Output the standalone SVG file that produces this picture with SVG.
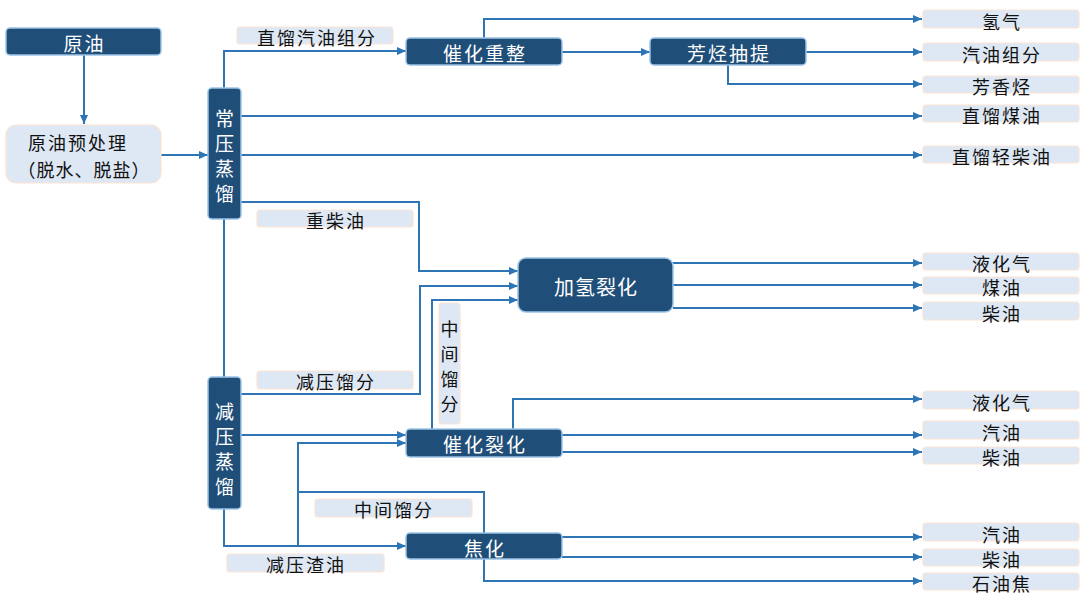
<svg xmlns="http://www.w3.org/2000/svg" width="1080" height="606" viewBox="0 0 1080 606">
<style>
.n{fill:#1f4e79;stroke:#9dc3e6;stroke-width:1.5}
.nt{fill:#fff;font-family:"Noto Sans CJK SC","Noto Sans",sans-serif;font-size:19px;text-anchor:middle;dominant-baseline:central}
.l{fill:#dde8f4;stroke:#fbe3d3;stroke-width:1.2}
.lt{fill:#111;font-family:"Noto Sans CJK SC","Noto Sans",sans-serif;font-size:18px;letter-spacing:2px;text-anchor:middle;dominant-baseline:central}
.c path{fill:none;stroke:#2e75b6;stroke-width:2}
.c .a{marker-end:url(#ah)}
</style>
<defs>
<marker id="ah" markerUnits="userSpaceOnUse" markerWidth="9" markerHeight="8" refX="9" refY="4" orient="auto">
<path d="M0,0 L9,4 L0,8 z" fill="#2e75b6"/>
</marker>
</defs>
<rect width="1080" height="606" fill="#fff"/>
<g class="c" id="connectors">
<path class="a" d="M84,55 V124"/>
<path class="a" d="M161,155 H208"/>
<path class="a" d="M224,88 V51 H406"/>
<path class="a" d="M241,116 H922"/>
<path class="a" d="M241,155 H922"/>
<path class="a" d="M241,202 H419 V271 H518"/>
<path d="M224,219 V377"/>
<path class="a" d="M241,394 H420 V286 H518"/>
<path class="a" d="M432,429 V300 H518"/>
<path class="a" d="M241,435 H406"/>
<path d="M484,533 V492 H298"/>
<path class="a" d="M298,546 V443 H406"/>
<path class="a" d="M224,509 V546 H406"/>
<path class="a" d="M484,38 V19 H922"/>
<path class="a" d="M562,52 H650"/>
<path class="a" d="M806,52 H922"/>
<path class="a" d="M728,65 V84 H922"/>
<path class="a" d="M673,263 H922"/>
<path class="a" d="M673,285 H922"/>
<path class="a" d="M673,308 H922"/>
<path class="a" d="M513,429 V399 H922"/>
<path class="a" d="M562,435 H922"/>
<path class="a" d="M562,452 H922"/>
<path class="a" d="M562,537 H922"/>
<path class="a" d="M562,557 H922"/>
<path class="a" d="M484,559 V581 H922"/>
</g>
<g id="n-crude"><rect class="n" x="6" y="28" width="155" height="27" rx="4"/><text class="nt" x="84.5" y="42" letter-spacing="2">原油</text></g>
<g id="n-pre"><rect x="6" y="125" width="155" height="58" rx="10" fill="#dde8f4" stroke="#fbe3d3" stroke-width="1.2"/><text class="lt" x="78" y="142">原油预处理</text><text class="lt" x="84" y="169" style="letter-spacing:1px">（脱水、脱盐）</text></g>
<g id="n-atm"><rect class="n" x="208" y="88" width="33" height="131" rx="4"/><text class="nt" x="224.5" y="117">常</text><text class="nt" x="224.5" y="142">压</text><text class="nt" x="224.5" y="167">蒸</text><text class="nt" x="224.5" y="192">馏</text></g>
<g id="n-vac"><rect class="n" x="208" y="377" width="33" height="132" rx="4"/><text class="nt" x="224.5" y="410">减</text><text class="nt" x="224.5" y="435">压</text><text class="nt" x="224.5" y="460">蒸</text><text class="nt" x="224.5" y="485">馏</text></g>
<g id="n-reform"><rect class="n" x="406" y="38" width="156" height="27" rx="4"/><text class="nt" x="485" y="52" letter-spacing="2">催化重整</text></g>
<g id="n-arom"><rect class="n" x="650" y="38" width="156" height="27" rx="4"/><text class="nt" x="729" y="52" letter-spacing="2">芳烃抽提</text></g>
<g id="n-hc"><rect class="n" x="518" y="258" width="155" height="54" rx="8"/><text class="nt" x="596" y="286" style="font-size:20px" letter-spacing="1">加氢裂化</text></g>
<g id="n-fcc"><rect class="n" x="406" y="429" width="156" height="28" rx="4"/><text class="nt" x="485" y="443" letter-spacing="2">催化裂化</text></g>
<g id="n-coke"><rect class="n" x="406" y="533" width="156" height="26" rx="4"/><text class="nt" x="485" y="547" letter-spacing="2">焦化</text></g>
<g id="lb-sr"><rect class="l" x="237" y="27" width="156" height="17" rx="3"/><text class="lt" x="317" y="37">直馏汽油组分</text></g>
<g id="lb-hd"><rect class="l" x="257" y="210" width="156" height="17" rx="3"/><text class="lt" x="336" y="220">重柴油</text></g>
<g id="lb-vd"><rect class="l" x="257" y="371" width="156" height="18" rx="3"/><text class="lt" x="336" y="381">减压馏分</text></g>
<g id="lb-md-v"><rect class="l" x="439" y="303" width="21" height="121" rx="3"/><text class="lt" x="449.5" y="328" style="letter-spacing:0">中</text><text class="lt" x="449.5" y="353" style="letter-spacing:0">间</text><text class="lt" x="449.5" y="378" style="letter-spacing:0">馏</text><text class="lt" x="449.5" y="403" style="letter-spacing:0">分</text></g>
<g id="lb-md-h"><rect class="l" x="315" y="499" width="157" height="18" rx="3"/><text class="lt" x="394" y="509">中间馏分</text></g>
<g id="lb-vr"><rect class="l" x="227" y="554" width="157" height="18" rx="3"/><text class="lt" x="306" y="564">减压渣油</text></g>
<g id="o-h2"><rect class="l" x="923" y="10" width="156" height="18" rx="3"/><text class="lt" x="1002" y="20.5">氢气</text></g>
<g id="o-gc"><rect class="l" x="923" y="43" width="156" height="18" rx="3"/><text class="lt" x="1002" y="53.5">汽油组分</text></g>
<g id="o-ar"><rect class="l" x="923" y="76" width="156" height="17" rx="3"/><text class="lt" x="1002" y="86">芳香烃</text></g>
<g id="o-ke"><rect class="l" x="923" y="105" width="156" height="17" rx="3"/><text class="lt" x="1002" y="115">直馏煤油</text></g>
<g id="o-ld"><rect class="l" x="923" y="146" width="156" height="17" rx="3"/><text class="lt" x="1002" y="156">直馏轻柴油</text></g>
<g id="o-hc-lpg"><rect class="l" x="923" y="253" width="156" height="17" rx="3"/><text class="lt" x="1002" y="263">液化气</text></g>
<g id="o-hc-ke"><rect class="l" x="923" y="277" width="156" height="17" rx="3"/><text class="lt" x="1002" y="287">煤油</text></g>
<g id="o-hc-di"><rect class="l" x="923" y="302" width="156" height="18" rx="3"/><text class="lt" x="1002" y="312.5">柴油</text></g>
<g id="o-fcc-lpg"><rect class="l" x="923" y="391" width="156" height="18" rx="3"/><text class="lt" x="1002" y="401.5">液化气</text></g>
<g id="o-fcc-ga"><rect class="l" x="923" y="421" width="156" height="18" rx="3"/><text class="lt" x="1002" y="431.5">汽油</text></g>
<g id="o-fcc-di"><rect class="l" x="923" y="447" width="156" height="17" rx="3"/><text class="lt" x="1002" y="457">柴油</text></g>
<g id="o-ck-ga"><rect class="l" x="923" y="523" width="156" height="18" rx="3"/><text class="lt" x="1002" y="533.5">汽油</text></g>
<g id="o-ck-di"><rect class="l" x="923" y="549" width="156" height="17" rx="3"/><text class="lt" x="1002" y="559">柴油</text></g>
<g id="o-ck-pc"><rect class="l" x="923" y="573" width="156" height="17" rx="3"/><text class="lt" x="1002" y="583">石油焦</text></g>
</svg>
